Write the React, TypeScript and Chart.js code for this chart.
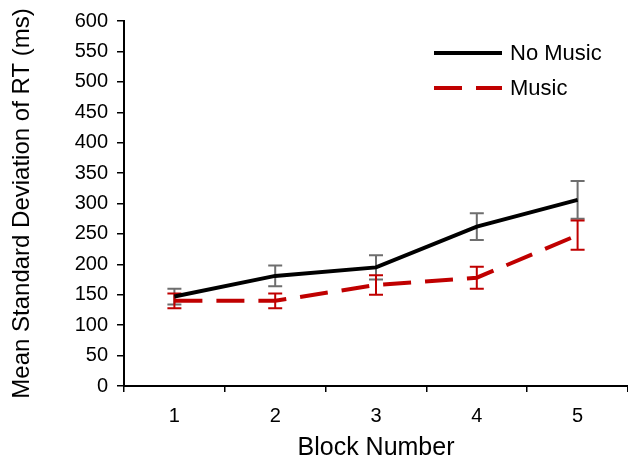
import React, { useEffect, useRef } from "react";
import { Chart, registerables } from "chart.js";

Chart.register(...registerables);

const blocks = ["1", "2", "3", "4", "5"];
const noMusic = [147, 181, 195, 262, 306];
const noMusicErr = [13, 17, 20, 22, 31];
const music = [140, 140, 166, 178, 248];
const musicErr = [12, 12, 16, 18, 24];
const yTicks = [0, 50, 100, 150, 200, 250, 300, 350, 400, 450, 500, 550, 600];

const FONT = "'Liberation Sans', Arial, sans-serif";
const RED = "#c00000";
const GREY = "#6e6e6e";

const errorBarPlugin = {
  id: "errorBars",
  beforeDatasetsDraw(chart: any) {
    const { ctx } = chart;
    const xs = chart.scales.x;
    const ys = chart.scales.y;
    const sets = [
      { vals: noMusic, errs: noMusicErr, color: GREY },
      { vals: music, errs: musicErr, color: RED },
    ];
    ctx.save();
    sets.forEach((s) => {
      ctx.strokeStyle = s.color;
      ctx.lineWidth = 2;
      ctx.setLineDash([]);
      s.vals.forEach((v, i) => {
        const x = xs.getPixelForValue(i);
        const yt = ys.getPixelForValue(v + s.errs[i]);
        const yb = ys.getPixelForValue(v - s.errs[i]);
        ctx.beginPath();
        ctx.moveTo(x, yt);
        ctx.lineTo(x, yb);
        ctx.moveTo(x - 7, yt);
        ctx.lineTo(x + 7, yt);
        ctx.moveTo(x - 7, yb);
        ctx.lineTo(x + 7, yb);
        ctx.stroke();
      });
    });
    ctx.restore();
  },
};

const legendPlugin = {
  id: "customLegend",
  afterDraw(chart: any) {
    const { ctx } = chart;
    const items = chart.data.datasets.map((d: any, i: number) => ({
      label: d.label,
      color: d.borderColor,
      dash: d.borderDash || [],
      y: 53 + i * 35,
    }));
    ctx.save();
    items.forEach((it: any) => {
      ctx.strokeStyle = it.color;
      ctx.lineWidth = 4;
      ctx.setLineDash(it.dash);
      ctx.beginPath();
      ctx.moveTo(434, it.y);
      ctx.lineTo(502, it.y);
      ctx.stroke();
      ctx.setLineDash([]);
      ctx.fillStyle = "#000";
      ctx.font = `22px ${FONT}`;
      ctx.textBaseline = "middle";
      ctx.textAlign = "left";
      ctx.fillText(it.label, 510, it.y + 1);
    });
    ctx.restore();
  },
};

export default function App() {
  const ref = useRef<HTMLCanvasElement | null>(null);
  useEffect(() => {
    if (!ref.current) return;
    const chart = new Chart(ref.current, {
      type: "line",
      data: {
        labels: blocks,
        datasets: [
          {
            label: "No Music",
            data: noMusic,
            borderColor: "#000000",
            backgroundColor: "#000000",
            borderWidth: 4,
            pointRadius: 0,
            tension: 0,
          },
          {
            label: "Music",
            data: music,
            borderColor: RED,
            backgroundColor: RED,
            borderWidth: 4,
            borderDash: [28, 14],
            pointRadius: 0,
            tension: 0,
          },
        ],
      },
      options: {
        animation: false,
        responsive: false,
        maintainAspectRatio: false,
        layout: { padding: { top: 19, right: 0, left: 0, bottom: 0 } },
        plugins: {
          legend: { display: false },
          tooltip: { enabled: false },
        },
        scales: {
          x: {
            type: "category",
            offset: true,
            grid: {
              offset: true,
              drawOnChartArea: false,
              drawTicks: true,
              tickLength: 6,
              color: "#000",
              lineWidth: 1.5,
            },
            border: { display: true, color: "#000", width: 2 },
            ticks: {
              color: "#000",
              font: { family: FONT, size: 20 },
              padding: 12,
              maxRotation: 0,
            },
            title: {
              display: true,
              text: "Block Number",
              color: "#000",
              font: { family: FONT, size: 25 },
              padding: 0,
            },
            afterFit(scale: any) {
              scale.height = 77;
            },
          },
          y: {
            min: 0,
            max: 600,
            afterBuildTicks(scale: any) {
              scale.ticks = yTicks.map((v) => ({ value: v }));
            },
            grid: {
              drawOnChartArea: false,
              drawTicks: true,
              tickLength: 7,
              color: "#000",
              lineWidth: 1.5,
            },
            border: { display: true, color: "#000", width: 2 },
            ticks: {
              color: "#000",
              font: { family: FONT, size: 20 },
              padding: 9,
            },
            title: {
              display: true,
              text: "Mean Standard Deviation of RT (ms)",
              color: "#000",
              font: { family: FONT, size: 24 },
              padding: { top: 8, bottom: 0 },
            },
            afterFit(scale: any) {
              scale.width = 124;
            },
          },
        },
      },
      plugins: [errorBarPlugin, legendPlugin],
    });
    return () => chart.destroy();
  }, []);
  return (
    <div style={{ position: "fixed", left: 0, top: 0, width: 628, height: 463, background: "#fff" }}>
      <canvas ref={ref} width={628} height={463} style={{ width: 628, height: 463, display: "block" }} />
    </div>
  );
}
